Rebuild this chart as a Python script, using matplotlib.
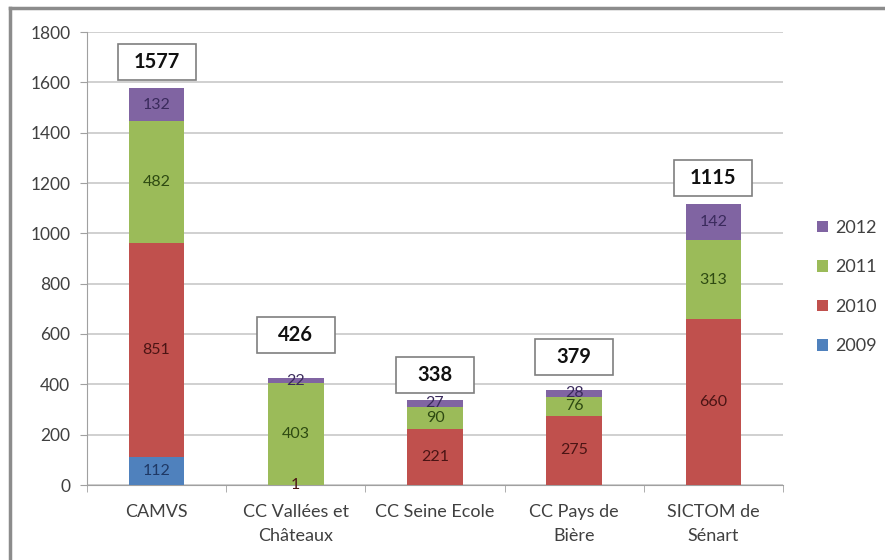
import matplotlib
matplotlib.use("Agg")
import matplotlib.pyplot as plt
from matplotlib.patches import Rectangle, Patch
from matplotlib.lines import Line2D
import numpy as np

plt.rcParams["font.family"] = ["Lato", "DejaVu Sans"]

categories = ["CAMVS", "CC Vallées et\nChâteaux", "CC Seine Ecole",
              "CC Pays de\nBière", "SICTOM de\nSénart"]
years = ["2009", "2010", "2011", "2012"]
v2009 = [112, 0, 0, 0, 0]
v2010 = [851, 1, 221, 275, 660]
v2011 = [482, 403, 90, 76, 313]
v2012 = [132, 22, 27, 28, 142]
totals = [1577, 426, 338, 379, 1115]

# where the total boxes sit above each bar (data units)
box_lift = [104, 170, 99, 130, 105]

colors = ["#4F81BD", "#C0504D", "#9BBB59", "#8064A2"]
text_colors = ["#1F3864", "#4A1414", "#2E4A12", "#3A2A5C"]

fig = plt.figure(figsize=(8.85, 5.6), dpi=100)
ax = fig.add_axes([87 / 885, 1 - 485 / 560, 696 / 885, 453 / 560])

x = np.arange(len(categories))
bottom = np.zeros(len(categories))
series = [v2009, v2010, v2011, v2012]
for vals, col, tcol, yr in zip(series, colors, text_colors, years):
    vals = np.array(vals, dtype=float)
    ax.bar(x, vals, 0.4, bottom=bottom, color=col, label=yr, zorder=3)
    for xi, v, b in zip(x, vals, bottom):
        if v > 0:
            ax.text(xi, b + v / 2, f"{int(v)}", ha="center", va="center",
                    fontsize=11.5, color=tcol, zorder=4)
    bottom += vals

# total boxes
bw, bh = 0.56, 143
for xi, tot, lift in zip(x, totals, box_lift):
    cy = tot + lift
    ax.add_patch(Rectangle((xi - bw / 2, cy - bh / 2), bw, bh, facecolor="white",
                           edgecolor="#7F7F7F", lw=1.2, zorder=5))
    ax.text(xi, cy, f"{tot}", ha="center", va="center", fontsize=14.5,
            fontweight="bold", color="#111111", zorder=6)

ax.set_xlim(-0.5, len(categories) - 0.5)
ax.set_ylim(0, 1800)
ax.set_yticks(range(0, 1801, 200))
ax.set_xticks(x)
ax.set_xticklabels(categories, fontsize=13, color="#404040", linespacing=1.55)
ax.set_xticks(np.arange(-0.5, len(categories), 1), minor=True)
ax.tick_params(axis="x", which="major", length=0, pad=14)
ax.tick_params(axis="x", which="minor", length=5, color="#A0A0A0")
ax.tick_params(axis="y", length=5, color="#A0A0A0", labelsize=12.5,
               labelcolor="#404040", pad=7)
ax.yaxis.grid(True, color="#C8C8C8", lw=1.2, zorder=0)
ax.set_axisbelow(True)
for s in ["top", "right"]:
    ax.spines[s].set_visible(False)
for s in ["left", "bottom"]:
    ax.spines[s].set_color("#A0A0A0")

handles = [Patch(facecolor=c, label=y) for c, y in zip(colors, years)][::-1]
fig.legend(handles=handles, loc="center left", bbox_to_anchor=(0.905, 0.4875),
           frameon=False, fontsize=13, handlelength=0.6, handleheight=0.6,
           handletextpad=0.4, labelspacing=1.3, labelcolor="#404040")

# frame edges visible in the picture: top and left only
fig.add_artist(Line2D([10 / 885, 1], [1 - 8 / 560, 1 - 8 / 560],
                      transform=fig.transFigure, color="#8C8C8C", lw=2.5))
fig.add_artist(Line2D([10 / 885, 10 / 885], [0, 1 - 8 / 560],
                      transform=fig.transFigure, color="#8C8C8C", lw=2.5))

fig.savefig("out.png", dpi=100)
